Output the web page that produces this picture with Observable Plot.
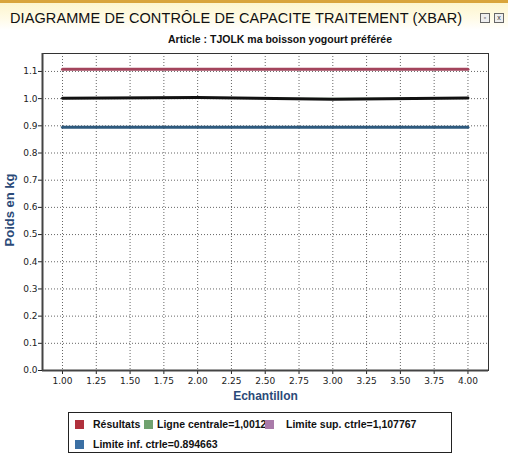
<!DOCTYPE html>
<html>
<head>
<meta charset="utf-8">
<script src="https://cdn.jsdelivr.net/npm/d3@7"></script>
<script src="https://cdn.jsdelivr.net/npm/@observablehq/plot@0.6"></script>
<style>
  html, body { margin: 0; padding: 0; background: #fff; }
  body { width: 508px; height: 460px; position: relative; overflow: hidden; font-family: "Liberation Sans", Arial, sans-serif; }
  #header { position: absolute; left: 0; top: 0; width: 508px; height: 30px;
    background: linear-gradient(to bottom, #fdf5cc 0%, #fffbe8 60%, #ffffff 100%);
    border-top: 3px solid #d9a43a; box-sizing: border-box; }
  #title { position: absolute; left: 10px; top: 7px; font-size: 14.5px; color: #111; letter-spacing: 0.1px; white-space: nowrap; }
  .icon { position: absolute; top: 10px; width: 8px; height: 8px; border: 1px solid #666; font-size: 7px; line-height: 8px; text-align: center; color: #333; background: #eee; }
  #subtitle { position: absolute; left: 0; width: 560px; top: 33px; text-align: center; font-size: 10.5px; font-weight: bold; color: #111; white-space: nowrap; }
  #chart { position: absolute; left: 0; top: 45px; }
  #legend { position: absolute; left: 68px; top: 412px; width: 384px; height: 41px; border: 1px solid #222; box-sizing: border-box; background: #fff; }
  .item { position: absolute; font-size: 10.5px; font-weight: bold; color: #111; white-space: nowrap; }
  .sw { display: inline-block; width: 9px; height: 9px; vertical-align: -1px; margin-right: 4px; }
</style>
</head>
<body>
<div id="header"><div id="title">DIAGRAMME DE CONTRÔLE DE CAPACITE TRAITEMENT (XBAR)</div>
  <div class="icon" style="left:480px">▫</div><div class="icon" style="left:494px">x</div></div>
<div id="subtitle">Article : TJOLK ma boisson yogourt préférée</div>
<div id="chart"></div>
<div id="legend"></div>
<script>
// ---- data ----
const samples = [1, 2, 3, 4];
const results = [1.001, 1.004, 0.998, 1.002];
const centerLine = 1.0012;
const upperLimit = 1.107767;
const lowerLimit = 0.894663;
const xTicks = [1, 1.25, 1.5, 1.75, 2, 2.25, 2.5, 2.75, 3, 3.25, 3.5, 3.75, 4];
const yTicks = [0, 0.1, 0.2, 0.3, 0.4, 0.5, 0.6, 0.7, 0.8, 0.9, 1.0, 1.1];
const legendLabels = ["Résultats", "Ligne centrale=1,0012", "Limite sup. ctrle=1,107767", "Limite inf. ctrle=0.894663"];
const legendColors = ["#b0303c", "#6fa26f", "#a97aa9", "#3b6fa3"];

const resultData = samples.map((s, i) => ({x: s, y: results[i]}));
const limitData = (v) => samples.map(s => ({x: s, y: v}));

const plot = Plot.plot({
  width: 508,
  height: 365,
  marginLeft: 42,
  marginRight: 20,
  marginTop: 8,
  marginBottom: 40,
  style: {fontFamily: "DejaVu Sans, sans-serif", fontSize: "9px", color: "#222", background: "transparent"},
  x: {domain: [0.852, 4.152]},
  y: {domain: [0, 1.166]},
  marks: [
    Plot.gridX(xTicks, {stroke: "#555", strokeOpacity: 0.9, strokeDasharray: "1,2"}),
    Plot.gridY(yTicks, {stroke: "#555", strokeOpacity: 0.9, strokeDasharray: "1,2"}),
    Plot.axisX(xTicks, {tickFormat: d3.format(".2f"), tickSize: 4, tickPadding: 3, label: null}),
    Plot.axisY(yTicks, {tickFormat: d3.format(".1f"), tickSize: 4, tickPadding: 1, label: null}),
    Plot.text(["Echantillon"], {frameAnchor: "bottom", lineAnchor: "middle", dy: 26, fontSize: 12, fontWeight: "bold", fill: "#2b4a78", fontFamily: "Liberation Sans, Arial, sans-serif"}),
    Plot.frame({stroke: "#333"}),
    Plot.ruleX([0.852], {stroke: "#444", strokeWidth: 2}),
    Plot.ruleY([0], {stroke: "#444", strokeWidth: 2}),
    Plot.line(limitData(upperLimit), {x: "x", y: "y", stroke: "#a3445c", strokeWidth: 3}),
    Plot.line(limitData(lowerLimit), {x: "x", y: "y", stroke: "#2e5a7e", strokeWidth: 3}),
    Plot.line(limitData(centerLine), {x: "x", y: "y", stroke: "#6fa26f", strokeWidth: 1}),
    Plot.line(resultData, {x: "x", y: "y", stroke: "#111", strokeWidth: 3})
  ]
});
document.getElementById("chart").appendChild(plot);

// y axis title as SVG text inside the plot
const svg = d3.select(plot);
svg.append("text")
  .attr("transform", "translate(14,165) rotate(-90)")
  .attr("text-anchor", "middle")
  .attr("font-family", "Liberation Sans, Arial, sans-serif")
  .attr("font-size", 13)
  .attr("font-weight", "bold")
  .attr("fill", "#2b4a78")
  .text("Poids en kg");

// legend
const pos = [[6, 5], [75, 5], [196, 5], [6, 25]];
const leg = document.getElementById("legend");
legendLabels.forEach((lab, i) => {
  const d = document.createElement("div");
  d.className = "item";
  d.style.left = pos[i][0] + "px";
  d.style.top = pos[i][1] + "px";
  const sw = document.createElement("span");
  sw.className = "sw";
  sw.style.background = legendColors[i];
  if (i !== 1) sw.style.marginRight = (i === 2 ? 12 : 9) + "px";
  d.appendChild(sw);
  d.appendChild(document.createTextNode(lab));
  leg.appendChild(d);
});
</script>
</body>
</html>
